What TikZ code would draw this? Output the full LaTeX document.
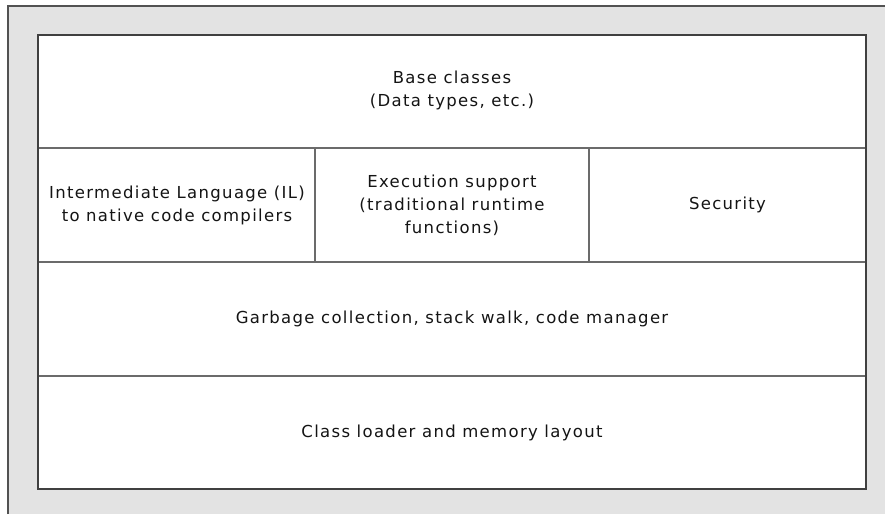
\documentclass[tikz,border=0pt]{standalone}
\usepackage{fontspec}
\setmainfont[LetterSpace=8]{DejaVu Sans}
\begin{document}
\begin{tikzpicture}[x=1pt,y=-1pt,
  panelline/.style={draw=black!68,line width=2pt},
  outerbox/.style={draw=black!75,line width=1.8pt},
  divider/.style={draw=black!58,line width=1.3pt},
  label/.style={align=center,font=\fontsize{16.5}{23}\selectfont,text=black!92,inner sep=0pt}]
\useasboundingbox (0,0) rectangle (885,514);
\fill[white] (0,0) rectangle (885,514);
\fill[black!11] (8,6) rectangle (885,514);
\draw[panelline] (8,514) -- (8,6) -- (885,6);
\fill[white] (38,35) rectangle (866,489);
% dividers
\coordinate (h1l) at (38,148); \coordinate (h1r) at (866,148);
\coordinate (h2l) at (38,262); \coordinate (h2r) at (866,262);
\coordinate (h3l) at (38,376); \coordinate (h3r) at (866,376);
\coordinate (v1t) at (315,148); \coordinate (v1b) at (315,262);
\coordinate (v2t) at (589,148); \coordinate (v2b) at (589,262);
\draw[divider] (h1l) -- (h1r);
\draw[divider] (h2l) -- (h2r);
\draw[divider] (h3l) -- (h3r);
\draw[divider] (v1t) -- (v1b);
\draw[divider] (v2t) -- (v2b);
\draw[outerbox] (38,35) rectangle (866,489);
% labels
\node[label] (base) at (452,90) {Base classes\\(Data types, etc.)};
\node[label] (il) at (177,205) {Intermediate Language (IL)\\to native code compilers};
\node[label] (exec) at (452,205) {Execution support\\(traditional runtime\\functions)};
\node[label] (sec) at (727.5,205) {Security};
\node[label] (gc) at (452,319) {Garbage collection, stack walk, code manager};
\node[label] (cl) at (452,433) {Class loader and memory layout};
\end{tikzpicture}
\end{document}
